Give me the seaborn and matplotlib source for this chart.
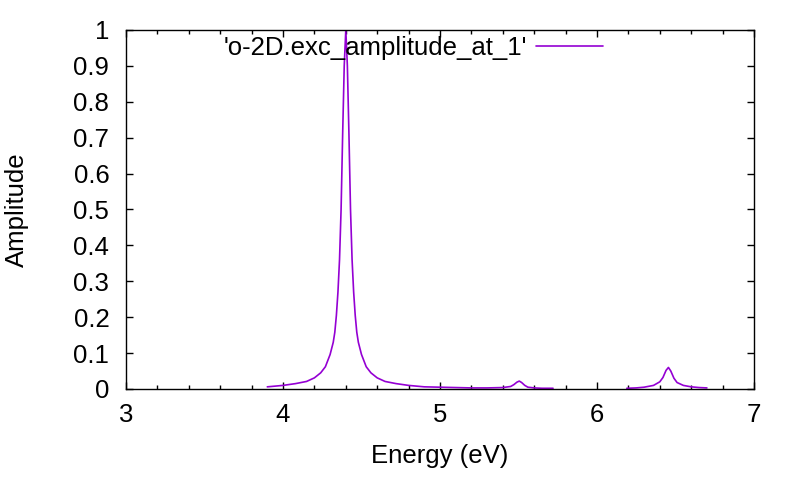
#!/usr/bin/env python3
"""Amplitude des excitations en fonction de l'energie"""

import numpy as np, pandas as pd
import matplotlib; matplotlib.use('Agg')
import matplotlib.pyplot as plt
from matplotlib.lines import Line2D
from matplotlib.ticker import MultipleLocator
import seaborn as sns

# Donnees (energie en eV, amplitude normalisee)
energy_a = [3.90, 4.00, 4.08, 4.15, 4.20, 4.24, 4.27, 4.30, 4.32, 4.33, 4.34,
            4.35, 4.36, 4.37, 4.38, 4.39, 4.40, 4.41, 4.42, 4.43, 4.44, 4.45,
            4.46, 4.47, 4.48, 4.50, 4.53, 4.56, 4.60, 4.65, 4.72, 4.80, 4.90,
            5.00, 5.10, 5.20, 5.30, 5.40, 5.45, 5.47, 5.49, 5.505, 5.52, 5.54,
            5.56, 5.60, 5.65, 5.72]
amp_a = [0.006, 0.010, 0.015, 0.021, 0.031, 0.045, 0.062, 0.096, 0.130, 0.158,
         0.205, 0.270, 0.360, 0.500, 0.710, 0.900, 1.000, 0.900, 0.710, 0.500,
         0.360, 0.270, 0.205, 0.158, 0.130, 0.096, 0.062, 0.045, 0.031, 0.021,
         0.015, 0.010, 0.006, 0.005, 0.004, 0.003, 0.003, 0.004, 0.007, 0.012,
         0.019, 0.022, 0.018, 0.010, 0.005, 0.003, 0.002, 0.002]
energy_b = [6.19, 6.25, 6.30, 6.36, 6.40, 6.42, 6.44, 6.455, 6.47, 6.49, 6.51,
            6.55, 6.60, 6.65, 6.70]
amp_b = [0.002, 0.003, 0.005, 0.010, 0.020, 0.032, 0.052, 0.060, 0.050, 0.030,
         0.018, 0.010, 0.006, 0.004, 0.003]

serie_label = "'o-2D.exc_amplitude_at_1'"
xticks = [3, 4, 5, 6, 7]
yticks = [0, 0.1, 0.2, 0.3, 0.4, 0.5, 0.6, 0.7, 0.8, 0.9, 1]
ytick_labels = ["0", "0.1", "0.2", "0.3", "0.4", "0.5", "0.6", "0.7", "0.8", "0.9", "1"]

df = pd.concat([
    pd.DataFrame({"energy": energy_a, "amp": amp_a, "seg": 0}),
    pd.DataFrame({"energy": energy_b, "amp": amp_b, "seg": 1}),
], ignore_index=True)

sns.set_style("ticks")
plt.rcParams['font.family'] = ['Liberation Sans', 'DejaVu Sans']
plt.rcParams.update({"text.color": "black", "axes.labelcolor": "black",
                     "xtick.color": "black", "ytick.color": "black"})
color = "#9400D3"
fs = 18.5

fig = plt.figure(figsize=(8, 4.8), dpi=100)
ax = fig.add_axes([0.1575, 0.1896, 0.785, 0.748])
sns.lineplot(data=df, x="energy", y="amp", units="seg", estimator=None,
             color=color, linewidth=1.2, sort=False, legend=False, ax=ax)

ax.set_xlim(3, 7)
ax.set_ylim(0, 1)
ax.set_xticks(xticks)
ax.set_xticklabels([str(t) for t in xticks])
ax.xaxis.set_minor_locator(MultipleLocator(0.2))
ax.set_yticks(yticks)
ax.set_yticklabels(ytick_labels)
ax.tick_params(which="both", direction="in", top=True, right=True, labelsize=fs, color="black")
ax.tick_params(which="major", length=5, width=1, pad=12)
ax.tick_params(which="minor", length=3, width=1)
ax.tick_params(axis="x", which="major", pad=10)
for s in ax.spines.values():
    s.set_visible(True)
    s.set_linewidth(1.0)
    s.set_color("black")

ax.set_xlabel("Energy (eV)", fontsize=fs, labelpad=12)
ax.set_ylabel("Amplitude", fontsize=fs, labelpad=32)

# legende facon gnuplot : texte puis trait
h = Line2D([], [], color=color, linewidth=1.2)
ax.legend([h], [serie_label], loc="upper right", bbox_to_anchor=(0.77, 1.0),
          frameon=False, markerfirst=False, fontsize=fs, handlelength=2.6,
          borderaxespad=0, borderpad=0.25, handletextpad=0.35)

plt.savefig("out.png", dpi=100)
plt.close()
